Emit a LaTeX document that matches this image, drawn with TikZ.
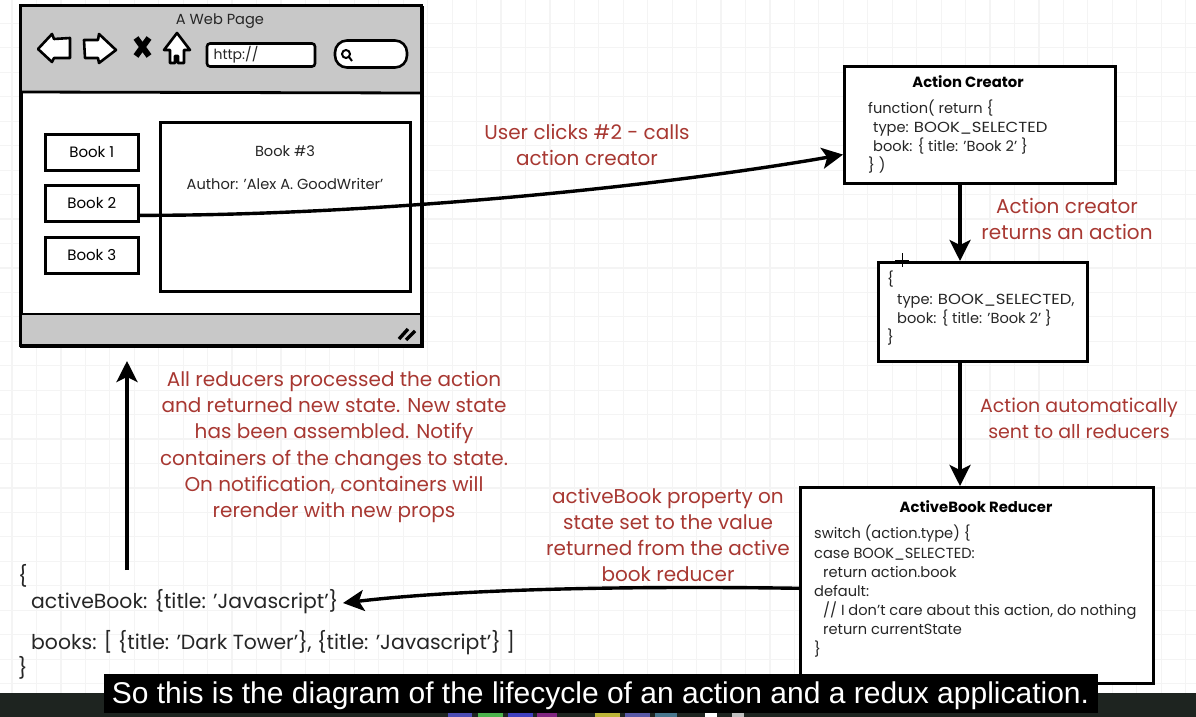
\documentclass[tikz,border=0pt]{standalone}
\usepackage{fontspec}
\setmainfont{Poppins}
\newfontfamily\capfont{Liberation Sans}
\usetikzlibrary{arrows.meta}
\definecolor{notered}{RGB}{168,56,50}
\definecolor{chromegray}{RGB}{200,200,200}
\definecolor{gridgray}{RGB}{244,244,244}
\definecolor{deskdark}{RGB}{30,36,32}
\newcommand{\wideselected}{\scalebox{1.13}[1]{BOOK\_SELECTED}}
\tikzset{
  sketch box/.style={draw=black,line width=2.6,fill=white,inner sep=0,anchor=north west},
  book button/.style={sketch box,minimum width=93,minimum height=36,font=\fontsize{15}{18}\selectfont},
  code text/.style={align=left,anchor=north west,inner sep=0,text=black!85,font=\fontsize{14.6}{19.2}\selectfont},
  note text/.style={align=center,text=notered,inner sep=0,font=\fontsize{20}{26.2}\selectfont},
  label text/.style={inner sep=0,text=black!85,font=\fontsize{14.6}{18}\selectfont},
  title text/.style={inner sep=0,font=\bfseries\fontsize{14.8}{18}\selectfont},
  flow arrow/.style={line width=3.4,-{Stealth[length=21,width=21,inset=5]}},
  icon/.style={draw=black,line width=2.6,fill=white,line join=round}
}
\begin{document}
\begin{tikzpicture}[x=1pt,y=-1pt]
  \useasboundingbox (0,0) rectangle (1196,717);
  \fill[white] (0,0) rectangle (1196,717);
  \foreach \gx in {0,...,48}
    \draw[gridgray,line width=1.2] (12+24.45*\gx,0) -- (12+24.45*\gx,693);
  \foreach \gy in {0,...,28}
    \draw[gridgray,line width=1.2] (0,23.4+24.45*\gy) -- (1196,23.4+24.45*\gy);
  \fill[deskdark] (0,693) rectangle (1196,717);
  % dock icons under the caption
  \foreach \dx/\dw/\dc in {448/24/blue!40!gray,478/25/green!40!gray,508/25/blue!50!gray,537/20/violet!70!gray,595/25/yellow!70!black,625/25/gray!70!blue,655/22/cyan!50!black,705/12/white,732/12/gray!50}
    \fill[\dc] (\dx,711) rectangle ++(\dw,6);

  % browser window
  \node[sketch box,minimum width=401,minimum height=339] (window) at (20,6) {};
  \fill[chromegray] (21,7) rectangle (420,92);
  \fill[chromegray] (21,314) rectangle (420,344);
  \draw[line width=3] (20,6) rectangle (421,345);
  \draw[line width=2.8] (20,92) -- (421,93);
  \draw[line width=2.8] (20,314) -- (421,314);
  \node[label text] (pagetitle) at (220,21) {A Web Page};

  % toolbar icons
  \draw[icon] (38,49) -- (52,34) -- (54,39) -- (70,38) -- (70,58) -- (54,58) -- (52,62) -- cycle;
  \draw[icon] (84,40) -- (98,40) -- (99,34) -- (116,50) -- (99,63) -- (98,58) -- (85,58) -- cycle;
  \draw[line width=6] (136,38) -- (149,56) (149,38) -- (136,56);
  \draw[icon] (164,50) -- (177,33) -- (190,50) -- (184,50) -- (184,63) -- (178,63) -- (178,56) -- (175,56) -- (175,63) -- (170,63) -- (170,50) -- cycle;
  \node[draw,line width=2.6,fill=white,rounded corners=3,minimum width=108,minimum height=23,inner sep=0] (urlbar) at (261,55) {};
  \node[label text,font=\fontsize{14}{16}\selectfont] (urltext) at (236,55) {http://};
  \node[draw,line width=2.6,fill=white,rounded corners=12,minimum width=72,minimum height=27,inner sep=0] (searchbar) at (371,54) {};
  \draw[line width=2] (346,54) circle (4) (349,57) -- (352,61);
  \draw[line width=3.4] (399,339) -- (408,329) (406,340) -- (415,331);

  % page content
  \node[book button] (bookone) at (44,133) {Book 1};
  \node[book button] (booktwo) at (44,184) {Book 2};
  \node[book button] (bookthree) at (44,236) {Book 3};
  \node[sketch box,minimum width=250,minimum height=169] (detail) at (159,121) {};
  \node[label text] (detailtitle) at (285,151) {Book \#3};
  \node[label text] (detailauthor) at (285,184) {Author: 'Alex A. GoodWriter'};

  % flow boxes
  \node[sketch box,minimum width=271,minimum height=117] (creator) at (843,65) {};
  \node[title text] (creatortitle) at (968,82) {Action Creator};
  \node[code text] (creatorcode) at (868,99.5) {function( return \{\\
    \hspace*{5pt}type: \wideselected\\
    \hspace*{5pt}book: \{ title: 'Book 2' \}\\
    \} )};
  \node[sketch box,minimum width=209,minimum height=99] (action) at (877,261) {};
  \node[code text] (actioncode) at (887,271) {\{\\
    \hspace*{10pt}type: \wideselected,\\
    \hspace*{10pt}book: \{ title: 'Book 2' \}\\
    \}};
  \draw[line width=0.7] (895,260) -- (909,260) (902,253) -- (902,267);
  \node[sketch box,minimum width=353,minimum height=196] (reducer) at (799,486) {};
  \node[title text] (reducertitle) at (976,507) {ActiveBook Reducer};
  \node[code text] (reducercode) at (814,525) {switch (action.type) \{\\
    case BOOK\_SELECTED:\\
    \hspace*{9pt}return action.book\\
    default:\\
    \hspace*{9pt}// I don't care about this action, do nothing\\
    \hspace*{9pt}return currentState\\
    \}};

  % app state
  \node[align=left,anchor=north west,inner sep=0,text=black!85,font=\fontsize{20.4}{25.6}\selectfont] (statetext) at (18,564) {\{\\
    \hspace*{13pt}activeBook: \{title: 'Javascript'\}\\[15pt]
    \hspace*{13pt}books: [ \{title: 'Dark Tower'\}, \{title: 'Javascript'\} ]\\
    \}};
  \coordinate (stateend) at (343,603);
  \coordinate (statetop) at (127,570);
  \coordinate (windowlow) at (127,361);
  \coordinate (flowline) at (960,0);

  % notes
  \node[note text] (noteclick) at (587,145) {User clicks \#2 - calls\\action creator};
  \node[note text] (notereturn) at (1067,219) {Action creator\\returns an action};
  \node[note text,font=\fontsize{19}{26.2}\selectfont] (notesent) at (1079,418) {Action automatically\\sent to all reducers};
  \node[note text] (noteset) at (668,535) {activeBook property on\\state set to the value\\returned from the active\\book reducer};
  \node[note text] (noterender) at (334,447) {All reducers processed the action\\and returned new state.  New state\\has been assembled.  Notify\\containers of the changes to state.\\On notification, containers will\\rerender with new props};

  % connectors
  \draw[flow arrow] (booktwo.east) ++(0,12) .. controls (350,216) and (640,190) .. ([yshift=30]creator.south west);
  \draw[flow arrow] (creator.south -| flowline) -- (action.north -| flowline);
  \draw[flow arrow] (action.south -| flowline) -- (reducer.north -| flowline);
  \draw[flow arrow] (reducer.west) ++(0,3) .. controls (650,586) and (470,588) .. (stateend);
  \draw[flow arrow] (statetop) -- (windowlow);

  % caption
  \node[fill=black,text=white,inner sep=0,minimum width=994,minimum height=39,text height=26,text depth=6,font=\capfont\fontsize{30}{32}\selectfont] (caption) at (600.5,693.5) {So this is the diagram of the lifecycle of an action and a redux application.};
\end{tikzpicture}
\end{document}
